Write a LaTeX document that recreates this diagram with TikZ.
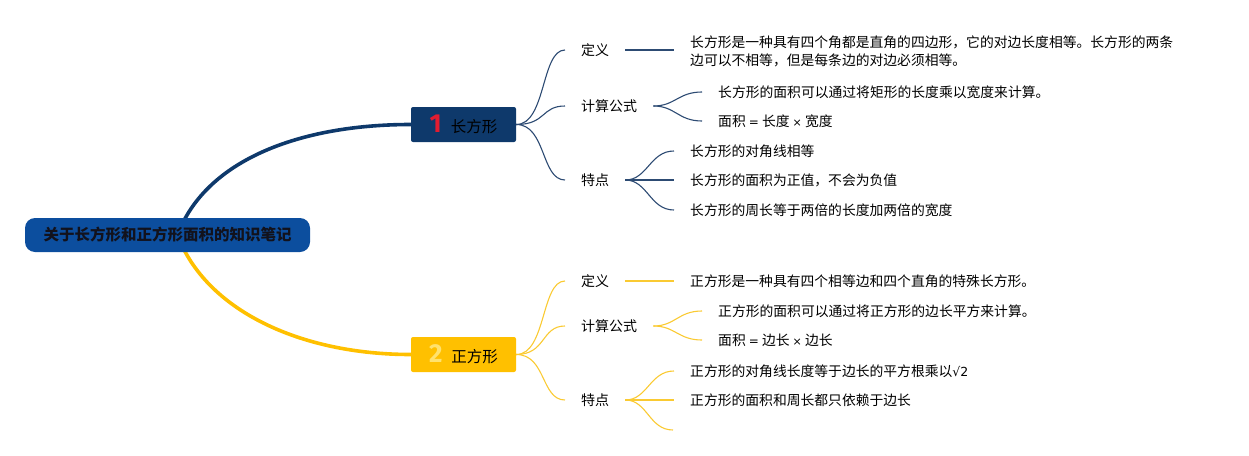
\documentclass[tikz,border=0pt]{standalone}
\usepackage{fontspec}
\setmainfont{Noto Sans CJK SC}
\newfontfamily\numfont{Fira Sans}
\newfontfamily\symfont{DejaVu Sans}
\usetikzlibrary{backgrounds}
\definecolor{navy}{RGB}{14,57,107}
\definecolor{rootblue}{RGB}{12,78,158}
\definecolor{gold}{RGB}{255,192,0}
\definecolor{navythin}{RGB}{45,75,115}
\definecolor{goldthin}{RGB}{250,202,50}
\definecolor{numred}{RGB}{226,28,48}
\definecolor{numyellow}{RGB}{255,226,110}
\definecolor{roottext}{RGB}{18,18,28}
\tikzset{
  rootbox/.style={fill=rootblue, rounded corners=10pt, minimum width=285pt, minimum height=34pt, inner sep=0pt, text=roottext, font=\fontsize{15.5}{18}\selectfont\bfseries},
  branchbox/.style={rounded corners=2pt, minimum width=105pt, minimum height=35pt, inner sep=0pt, font=\fontsize{15.5}{18}\selectfont},
  label/.style={anchor=west, inner xsep=16pt, inner ysep=0pt, font=\fontsize{14}{18}\selectfont},
  leaf/.style={anchor=west, inner xsep=16pt, inner ysep=0pt, align=left, font=\fontsize{13.8}{18}\selectfont},
  bigline/.style={line width=3.6pt},
  thinnavy/.style={line width=1.1pt, navythin},
  thingold/.style={line width=1.1pt, goldthin},
}
\begin{document}
\begin{tikzpicture}[x=1pt,y=-1pt]
\useasboundingbox (0,0) rectangle (1249,455);
% root and branches
\node[rootbox] (root) at (167.5,235) {关于长方形和正方形面积的知识笔记};
\node[branchbox, fill=navy] (b1) at (463.5,124.5) {{\numfont\bfseries\fontsize{26}{26}\selectfont\color{numred}1}\hspace{9pt}长方形};
\node[branchbox, fill=gold] (b2) at (463.5,354.5) {{\numfont\bfseries\fontsize{26}{26}\selectfont\color{numyellow}2}\hspace{9pt}正方形};
% branch 1 labels
\node[label] (a1) at (565,50) {定义};
\node[label] (a2) at (565,106) {计算公式};
\node[label] (a3) at (565,180) {特点};
% branch 1 leaves
\node[leaf] (a1l) at (674,51) {长方形是一种具有四个角都是直角的四边形，它的对边长度相等。长方形的两条\\边可以不相等，但是每条边的对边必须相等。};
\node[leaf] (a2l1) at (702,92) {长方形的面积可以通过将矩形的长度乘以宽度来计算。};
\node[leaf] (a2l2) at (702,121) {面积 {\symfont\fontsize{12}{18}\selectfont =} 长度 {\symfont\fontsize{11}{18}\selectfont ×} 宽度};
\node[leaf] (a3l1) at (674,151) {长方形的对角线相等};
\node[leaf] (a3l2) at (674,180) {长方形的面积为正值，不会为负值};
\node[leaf] (a3l3) at (674,210) {长方形的周长等于两倍的长度加两倍的宽度};
% branch 2 labels
\node[label] (c1) at (565,281) {定义};
\node[label] (c2) at (565,326) {计算公式};
\node[label] (c3) at (565,400) {特点};
% branch 2 leaves
\node[leaf] (c1l) at (674,281) {正方形是一种具有四个相等边和四个直角的特殊长方形。};
\node[leaf] (c2l1) at (702,311) {正方形的面积可以通过将正方形的边长平方来计算。};
\node[leaf] (c2l2) at (702,340) {面积 {\symfont\fontsize{12}{18}\selectfont =} 边长 {\symfont\fontsize{11}{18}\selectfont ×} 边长};
\node[leaf] (c3l1) at (674,371) {正方形的对角线长度等于边长的平方根乘以{\symfont\fontsize{12.5}{18}\selectfont √2}};
\node[leaf] (c3l2) at (674,400) {正方形的面积和周长都只依赖于边长};
\coordinate (c3l3) at (673,430);
\begin{scope}[on background layer]
  \draw[bigline, navy] ([xshift=10pt]root.center) .. controls +(28,-75) and +(-111,0) .. (b1.west);
  \draw[bigline, gold] ([xshift=10pt]root.center) .. controls +(28,75) and +(-111,0) .. (b2.west);
\end{scope}
% branch 1 connectors
\foreach \t in {a1,a2,a3}
  \draw[thinnavy] (b1.east) .. controls +(30,0) and +(-24,0) .. (\t.west);
\draw[thinnavy] (a1.east) -- (a1.east -| a1l.west);
\foreach \t in {a2l1,a2l2}
  \draw[thinnavy] (a2.east) .. controls +(22,0) and +(-24,0) .. (\t.west);
\foreach \t in {a3l1,a3l2,a3l3}
  \draw[thinnavy] (a3.east) .. controls +(22,0) and +(-24,0) .. (\t.west);
% branch 2 connectors
\foreach \t in {c1,c2,c3}
  \draw[thingold] (b2.east) .. controls +(30,0) and +(-24,0) .. (\t.west);
\draw[thingold] (c1.east) -- (c1l.west);
\foreach \t in {c2l1,c2l2}
  \draw[thingold] (c2.east) .. controls +(22,0) and +(-24,0) .. (\t.west);
\draw[thingold] (c3.east) .. controls +(22,0) and +(-24,0) .. (c3l1.west);
\draw[thingold] (c3.east) .. controls +(22,0) and +(-24,0) .. (c3l2.west);
\draw[thingold] (c3.east) .. controls +(22,0) and +(-24,0) .. (c3l3);
\end{tikzpicture}
\end{document}
